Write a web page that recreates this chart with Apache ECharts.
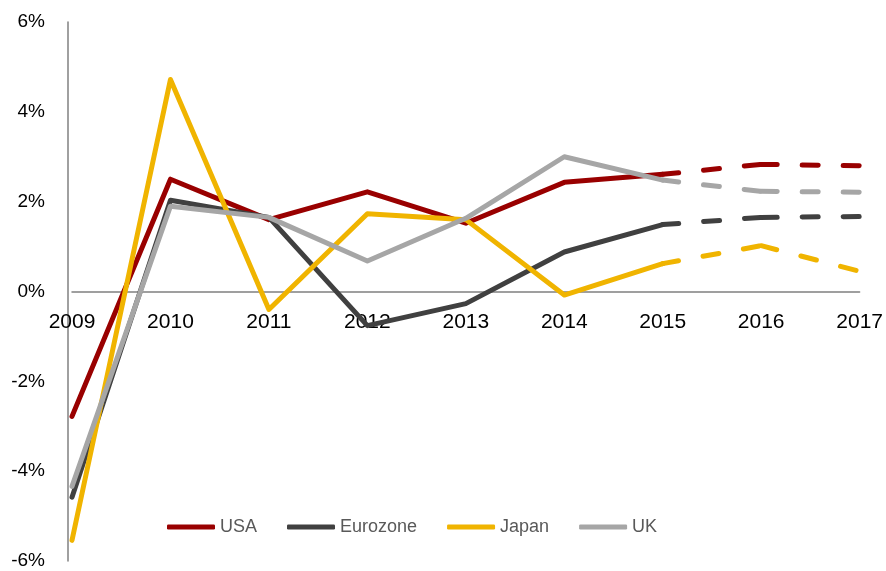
<!DOCTYPE html>
<html>
<head>
<meta charset="utf-8">
<title>Real GDP growth</title>
<script src="https://cdn.jsdelivr.net/npm/echarts@6/dist/echarts.min.js"></script>
<style>
  html, body { margin: 0; padding: 0; background: #ffffff; }
  #chart { width: 886px; height: 571px; }
</style>
</head>
<body>
<div id="chart"></div>
<script>
// Annual real GDP growth, %; 2015 onward is forecast (dashed)
const years = ['2009', '2010', '2011', '2012', '2013', '2014', '2015', '2016', '2017'];
const usa      = [-2.78, 2.50, 1.60, 2.22, 1.52, 2.43, 2.61, 2.83, 2.80];
const eurozone = [-4.58, 2.03, 1.65, -0.76, -0.27, 0.88, 1.49, 1.65, 1.67];
const japan    = [-5.54, 4.72, -0.40, 1.73, 1.60, -0.08, 0.62, 1.02, 0.45];
const uk       = [-4.34, 1.90, 1.65, 0.68, 1.63, 3.00, 2.48, 2.23, 2.21];
const countries = ['USA', 'Eurozone', 'Japan', 'UK'];
const colors = ['#990000', '#404040', '#F0B400', '#A6A6A6'];
const forecastFrom = 6; // index of 2015

const values = [usa, eurozone, japan, uk];

// plot area geometry
const gridTop = 22, gridBottom = 10, chartHeight = 571;
const yMin = -6, yMax = 6;
// shift the category axis (line + year labels) up to the 0% level
const plotHeight = chartHeight - gridTop - gridBottom;
const zeroOffset = -plotHeight * (0 - yMin) / (yMax - yMin);

function actualPart(arr) {
  return arr.map((v, i) => (i <= forecastFrom ? v : null));
}
// one year-to-year piece of the forecast, so the dash pattern restarts at each year
function forecastPiece(arr, from) {
  return arr.map((v, i) => (i === from || i === from + 1 ? v : null));
}

const series = [];
countries.forEach((name, k) => {
  series.push({
    name: name,
    type: 'line',
    data: actualPart(values[k]),
    showSymbol: false,
    symbol: 'none',
    color: colors[k],
    lineStyle: { width: 5, color: colors[k], cap: 'round', join: 'round' },
    animation: false,
    z: 2 + k
  });
});
countries.forEach((name, k) => {
  for (let i = forecastFrom; i < years.length - 1; i++) {
    series.push({
      name: name,
      type: 'line',
      data: forecastPiece(values[k], i),
      showSymbol: false,
      symbol: 'none',
      color: colors[k],
      lineStyle: { width: 5, color: colors[k], type: [16, 25], cap: 'round', join: 'round' },
      animation: false,
      z: 2 + k
    });
  }
});

const chart = echarts.init(document.getElementById('chart'), null, { renderer: 'canvas' });
chart.setOption({
  backgroundColor: '#ffffff',
  animation: false,
  textStyle: { fontFamily: 'Liberation Sans, Arial, sans-serif' },
  grid: { left: 72, right: 24, top: gridTop, bottom: gridBottom, containLabel: false },
  legend: {
    data: countries,
    left: 162,
    top: 513,
    icon: 'roundRect',
    itemWidth: 48,
    itemHeight: 5,
    itemGap: 30,
    textStyle: { fontSize: 18, color: '#595959', fontFamily: 'Liberation Sans, Arial, sans-serif' }
  },
  xAxis: {
    type: 'category',
    data: years,
    boundaryGap: false,
    position: 'bottom',
    offset: zeroOffset,
    axisLine: { onZero: false, lineStyle: { color: '#808080', width: 1.5 } },
    axisTick: { show: false },
    axisLabel: { fontSize: 21, color: '#000000', margin: 20, interval: 0 },
    splitLine: { show: false }
  },
  yAxis: {
    type: 'value',
    min: yMin,
    max: yMax,
    interval: 2,
    offset: 4,
    axisLine: { show: true, lineStyle: { color: '#808080', width: 1.5 } },
    axisTick: { show: false },
    axisLabel: { fontSize: 19, color: '#000000', margin: 23, formatter: '{value}%' },
    splitLine: { show: false }
  },
  series: series
});
</script>
</body>
</html>
